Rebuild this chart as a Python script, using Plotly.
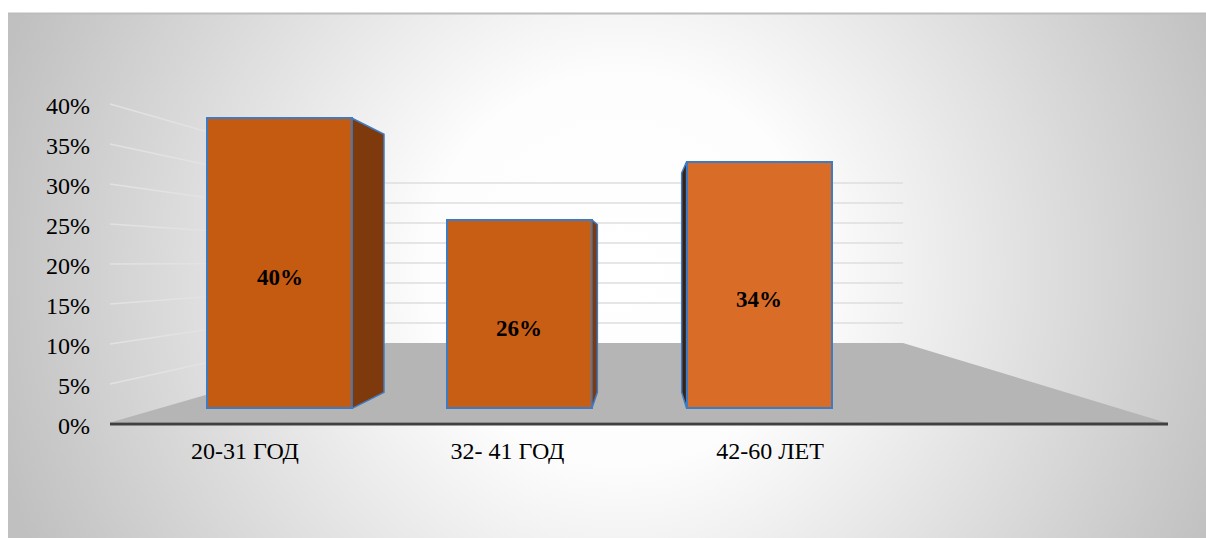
import base64
import plotly.graph_objects as go

# ---------------- data ----------------
categories = ["20-31 ГОД", "32- 41 ГОД", "42-60 ЛЕТ"]
values = [40, 26, 34]
tick_values = [0, 5, 10, 15, 20, 25, 30, 35, 40]
tick_labels = [f"{t}%" for t in tick_values]

# ---------------- geometry (pixels of the 1206x538 canvas) ----------------
W, H = 1206, 538
FONT = "Liberation Serif"

# front plane of the bars
BAR_X0, BAR_DX = 279.6, 239.75     # centre of first bar, spacing
BAR_Y0, BAR_PPU = 408.3, 7.25      # baseline, px per percent
BAR_W = 145 / BAR_DX
# value-axis labels plane
LAB_Y0, LAB_PPU = 425.5, 8.0
# category labels plane
CAT_X0, CAT_DX = 245, 262.5
# perspective
VP_PX = (642, 263)
DEPTH = 0.89
# floor / walls
FL_FRONT_L, FL_BACK_L = (112, 422), (386, 343)
FL_BACK_R, FL_FRONT_R = (903, 343), (1167, 423)
AXIS_Y, AXIS_X0, AXIS_X1 = 424, 110, 1168
BACK_PPU = 4.0
SIDE_FRONT_X = 110


def px(x):
    return x / W


def py(y):
    return 1 - y / H


x_range = [-BAR_X0 / BAR_DX, (W - BAR_X0) / BAR_DX]
y_range = [-(H - BAR_Y0) / BAR_PPU, BAR_Y0 / BAR_PPU]
y2_range = [-(H - LAB_Y0) / LAB_PPU, LAB_Y0 / LAB_PPU]
x2_range = [-CAT_X0 / CAT_DX, (W - CAT_X0) / CAT_DX]

vp_x = (VP_PX[0] - BAR_X0) / BAR_DX
vp_y = (BAR_Y0 - VP_PX[1]) / BAR_PPU

BAR_COLORS = ["#c55a11", "#c85d14", "#d96d28"]
OUTLINE = "#3d7cc4"
SIDE_RIGHT = "#7e390c"
SIDE_LEFT = "#3a2211"

fig = go.Figure()

# side faces of the columns (perspective, computed from the values)
for i, v in enumerate(values):
    xl, xr = i - BAR_W / 2, i + BAR_W / 2
    if xr < vp_x:
        xe, col = xr, SIDE_RIGHT
    else:
        xe, col = xl, SIDE_LEFT
    xb = vp_x + DEPTH * (xe - vp_x)
    yb0 = vp_y + DEPTH * (0 - vp_y)
    ybv = vp_y + DEPTH * (v - vp_y)
    fig.add_trace(go.Scatter(
        x=[xe, xb, xb, xe, xe], y=[0, yb0, ybv, v, 0],
        mode="lines", fill="toself", fillcolor=col,
        line=dict(color=OUTLINE, width=1.5),
        hoverinfo="skip", showlegend=False))

# front faces
fig.add_trace(go.Bar(
    x=list(range(len(categories))), y=values, width=BAR_W,
    marker=dict(color=BAR_COLORS, line=dict(color=OUTLINE, width=2)),
    hoverinfo="skip", showlegend=False))

# helper trace carrying the label axes
fig.add_trace(go.Scatter(
    x=categories, y=[0] * len(categories), xaxis="x2", yaxis="y2",
    mode="markers", marker=dict(opacity=0), hoverinfo="skip", showlegend=False))

# value labels
for i, v in enumerate(values):
    fig.add_annotation(x=i, y=v / 2, yshift=-14, text=f"<b>{v}%</b>",
                       showarrow=False,
                       font=dict(family=FONT, size=23, color="#000000"))

# ---------------- decoration: background, floor, walls ----------------
svg = (
    '<svg xmlns="http://www.w3.org/2000/svg" width="1198" height="525" '
    'viewBox="0 0 1198 525"><defs><radialGradient id="g" '
    'gradientUnits="userSpaceOnUse" cx="612" cy="257" r="650">'
    '<stop offset="0" stop-color="#ffffff"/>'
    '<stop offset="0.3" stop-color="#fdfdfd"/>'
    '<stop offset="1" stop-color="#c0c0c0"/>'
    '</radialGradient></defs>'
    '<rect width="1198" height="525" fill="url(#g)"/></svg>'
)
src = "data:image/svg+xml;base64," + base64.b64encode(svg.encode()).decode()

shapes = []
shapes.append(dict(type="line", xref="paper", yref="paper",
                   x0=px(8), x1=px(1206), y0=py(13.5), y1=py(13.5),
                   line=dict(color="#bdbdbd", width=2), layer="below"))
# floor
floor_path = "M {} {} L {} {} L {} {} L {} {} Z".format(
    px(FL_FRONT_L[0]), py(FL_FRONT_L[1]), px(FL_BACK_L[0]), py(FL_BACK_L[1]),
    px(FL_BACK_R[0]), py(FL_BACK_R[1]), px(FL_FRONT_R[0]), py(FL_FRONT_R[1]))
shapes.append(dict(type="path", xref="paper", yref="paper", path=floor_path,
                   fillcolor="#b5b5b5", line=dict(width=0), layer="below"))
# wall gridlines
for t in tick_values[1:]:
    yb = FL_BACK_L[1] - BACK_PPU * t
    yf = AXIS_Y - LAB_PPU * t
    shapes.append(dict(type="line", xref="paper", yref="paper",
                       x0=px(FL_BACK_L[0]), x1=px(FL_BACK_R[0]), y0=py(yb), y1=py(yb),
                       line=dict(color="#dedede", width=1.5), layer="below"))
    shapes.append(dict(type="line", xref="paper", yref="paper",
                       x0=px(SIDE_FRONT_X), x1=px(FL_BACK_L[0]), y0=py(yf), y1=py(yb),
                       line=dict(color="#e2e2e2", width=1.5), layer="below"))
# category axis line
shapes.append(dict(type="line", xref="paper", yref="paper",
                   x0=px(AXIS_X0), x1=px(AXIS_X1), y0=py(AXIS_Y), y1=py(AXIS_Y),
                   line=dict(color="#404040", width=3), layer="below"))

fig.update_layout(
    width=W, height=H,
    margin=dict(l=0, r=0, t=0, b=0),
    paper_bgcolor="#ffffff", plot_bgcolor="rgba(0,0,0,0)",
    font=dict(family=FONT),
    images=[dict(source=src, xref="paper", yref="paper",
                 x=px(8), y=py(13), sizex=1198 / W, sizey=525 / H,
                 xanchor="left", yanchor="top", sizing="stretch", layer="below")],
    shapes=shapes,
    xaxis=dict(range=x_range, visible=False, fixedrange=True),
    yaxis=dict(range=y_range, visible=False, fixedrange=True),
    xaxis2=dict(overlaying="x", anchor="free", position=py(434),
                type="category", range=x2_range, showgrid=False, zeroline=False,
                showline=False, ticks="",
                tickfont=dict(family=FONT, size=24, color="#000000")),
    yaxis2=dict(overlaying="y", anchor="free", position=px(90), side="left",
                range=y2_range, tickvals=tick_values, ticktext=tick_labels,
                showgrid=False, zeroline=False, showline=False, ticks="",
                tickfont=dict(family=FONT, size=24, color="#000000")),
    bargap=0,
    showlegend=False,
)

fig.write_html("out.html")
